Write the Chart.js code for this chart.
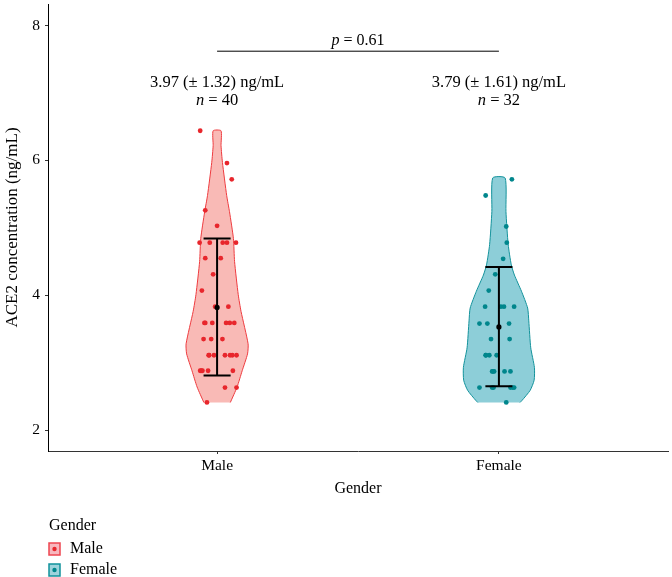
<!DOCTYPE html>
<html>
<head>
<meta charset="utf-8">
<script src="https://cdn.jsdelivr.net/npm/chart.js@4.4.0/dist/chart.umd.min.js"></script>
<style>
  html, body { margin: 0; padding: 0; background: #fff; }
</style>
</head>
<body>
<canvas id="c" width="672" height="577"></canvas>
<script>
const groups = ['Male', 'Female'];
const yTicks = [2, 4, 6, 8];

// ACE2 values per subject (ng/mL) and horizontal jitter (category units)
const maleValues = [6.44, 5.96, 5.72, 5.26, 5.03, 4.78, 4.78, 4.78, 4.78, 4.78, 4.55, 4.55, 4.31, 4.07,
  3.83, 3.83, 3.59, 3.59, 3.59, 3.59, 3.59, 3.35, 3.35, 3.35, 3.11, 3.11, 3.11, 3.11, 3.11, 3.11,
  2.88, 2.88, 2.88, 2.88, 2.63, 2.63, 2.41, 3.11, 2.88, 3.59];
const maleJitter = [-0.060, 0.035, 0.052, -0.042, 0, -0.062, -0.026, 0.020, 0.035, 0.067, -0.042, 0.013, -0.014, -0.054,
  -0.007, 0.040, -0.045, -0.017, 0.032, 0.045, 0.061, -0.048, -0.021, 0.019, -0.028, -0.011, 0.028, 0.046, 0.054, 0.069,
  -0.060, -0.052, -0.032, 0.056, 0.028, 0.069, -0.036, -0.030, -0.056, -0.042];

const femaleValues = [5.72, 5.48, 5.02, 4.78, 4.54, 4.31, 4.07, 3.83, 3.83, 3.83, 3.83, 3.58, 3.58, 3.58,
  3.35, 3.35, 3.11, 3.11, 3.11, 2.87, 2.87, 2.87, 2.87, 2.63, 2.63, 2.63, 2.63, 2.41, 2.63, 2.63, 3.11, 2.87];
const femaleJitter = [0.046, -0.047, 0.026, 0.028, 0.015, -0.013, -0.036, -0.049, 0.007, 0.018, 0.054, -0.069, -0.041, 0.036,
  -0.028, 0.038, -0.047, -0.034, -0.008, -0.024, -0.017, 0.020, 0.041, -0.069, -0.024, 0.041, 0.054, 0.026, -0.019, 0.049, -0.046, -0.021];

// violin outline: levels and half-widths (category units)
const maleLevels = [2.41, 2.64, 2.88, 3.13, 3.28, 3.76, 4.01, 4.50, 4.84, 5.24, 5.48, 5.97, 6.22, 6.44];
const maleHalfWidth = [0.047, 0.071, 0.089, 0.108, 0.110, 0.085, 0.075, 0.062, 0.058, 0.044, 0.034, 0.019, 0.014, 0.014];
const femaleLevels = [2.41, 2.44, 2.59, 2.74, 2.93, 3.22, 3.62, 3.81, 4.06, 4.30, 4.45, 4.75, 5.24, 5.74];
const femaleHalfWidth = [0.075, 0.082, 0.111, 0.125, 0.126, 0.113, 0.106, 0.102, 0.080, 0.055, 0.044, 0.033, 0.025, 0.022];

// error bars: low, mean, high
const maleBar = [2.81, 3.82, 4.84];
const femaleBar = [2.65, 3.53, 4.42];

const summaryLabels = ['3.97 (\u00b1 1.32) ng/mL', '3.79 (\u00b1 1.61) ng/mL'];
const nLabels = ['40', '32'];
const pLabel = '0.61';

const FONT = "'Liberation Serif', 'DejaVu Serif', serif";
const capHalf = 0.048;

function violin(center, levels, widths) {
  const right = levels.map((y, i) => ({ x: center + widths[i], y }));
  const left = levels.map((y, i) => ({ x: center - widths[i], y })).reverse();
  return right.concat(left);
}

function points(center, values, jitter) {
  return values.map((y, i) => ({ x: center + jitter[i], y }));
}

function errorBar(center, bar) {
  const [lo, , hi] = bar;
  return [
    { x: center - capHalf, y: hi }, { x: center + capHalf, y: hi }, { x: center, y: null },
    { x: center, y: hi }, { x: center, y: lo }, { x: center, y: null },
    { x: center - capHalf, y: lo }, { x: center + capHalf, y: lo }
  ];
}

function drawRuns(ctx, runs, cx, y, size) {
  let w = 0;
  runs.forEach(r => {
    ctx.font = (r.i ? 'italic ' : '') + size + 'px ' + FONT;
    r.w = ctx.measureText(r.t).width;
    w += r.w;
  });
  let x = cx - w / 2;
  ctx.textAlign = 'left';
  ctx.textBaseline = 'middle';
  runs.forEach(r => {
    ctx.font = (r.i ? 'italic ' : '') + size + 'px ' + FONT;
    ctx.fillText(r.t, x, y);
    x += r.w;
  });
}

const annotations = {
  id: 'annotations',
  afterDatasetsDraw(chart) {
    const { ctx, scales: { x, y } } = chart;
    ctx.save();
    ctx.fillStyle = '#000';
    ctx.strokeStyle = '#000';
    ctx.lineWidth = 1;
    ctx.beginPath();
    ctx.moveTo(x.getPixelForValue(1), y.getPixelForValue(7.62));
    ctx.lineTo(x.getPixelForValue(2), y.getPixelForValue(7.62));
    ctx.stroke();
    drawRuns(ctx, [{ t: 'p', i: true }, { t: ' = ' + pLabel }], x.getPixelForValue(1.5), y.getPixelForValue(7.77), 16);
    groups.forEach((g, i) => {
      const cx = x.getPixelForValue(i + 1);
      drawRuns(ctx, [{ t: summaryLabels[i] }], cx, y.getPixelForValue(7.15), 16.5);
      drawRuns(ctx, [{ t: 'n', i: true }, { t: ' = ' + nLabels[i] }], cx, y.getPixelForValue(6.88), 16.5);
    });
    ctx.restore();
  }
};

const legendColors = [
  { fill: '#f7b7be', stroke: '#ee4650', dot: '#e8262c' },
  { fill: '#9ed3dc', stroke: '#11929c', dot: '#00868c' }
];

const legendBox = {
  id: 'legendBox',
  afterDraw(chart) {
    const { ctx } = chart;
    const left = chart.chartArea.left + 1;
    ctx.save();
    ctx.fillStyle = '#000';
    ctx.textAlign = 'left';
    ctx.textBaseline = 'middle';
    ctx.font = '16px ' + FONT;
    ctx.fillText('Gender', left, 526);
    groups.forEach((g, i) => {
      const top = 543 + i * 21;
      const c = legendColors[i];
      ctx.fillStyle = c.fill;
      ctx.fillRect(left, top, 11, 12);
      ctx.strokeStyle = c.stroke;
      ctx.lineWidth = 1.5;
      ctx.strokeRect(left, top, 11, 12);
      ctx.fillStyle = c.dot;
      ctx.beginPath();
      ctx.arc(left + 5.5, top + 6, 2.2, 0, Math.PI * 2);
      ctx.fill();
      ctx.fillStyle = '#000';
      ctx.font = '16px ' + FONT;
      ctx.fillText(g, left + 21, top + 6);
    });
    ctx.restore();
  }
};

new Chart(document.getElementById('c'), {
  type: 'scatter',
  data: {
    datasets: [
      {
        type: 'line', data: violin(1, maleLevels, maleHalfWidth), fill: 'shape',
        backgroundColor: 'rgba(244, 118, 110, 0.5)', borderColor: '#ee3b3f', borderWidth: 1,
        pointRadius: 0, tension: 0.2, order: 5
      },
      {
        type: 'line', data: violin(2, femaleLevels, femaleHalfWidth), fill: 'shape',
        backgroundColor: 'rgba(28, 157, 178, 0.5)', borderColor: '#13929b', borderWidth: 1,
        pointRadius: 0, tension: 0.2, order: 5
      },
      {
        data: points(1, maleValues, maleJitter), backgroundColor: '#e8262c', borderWidth: 0,
        pointRadius: 2.4, order: 3
      },
      {
        data: points(2, femaleValues, femaleJitter), backgroundColor: '#00868c', borderWidth: 0,
        pointRadius: 2.4, order: 3
      },
      {
        type: 'line', data: errorBar(1, maleBar), borderColor: '#000', borderWidth: 2,
        pointRadius: 0, spanGaps: false, fill: false, order: 1
      },
      {
        type: 'line', data: errorBar(2, femaleBar), borderColor: '#000', borderWidth: 2,
        pointRadius: 0, spanGaps: false, fill: false, order: 1
      },
      {
        data: [{ x: 1, y: maleBar[1] }, { x: 2, y: femaleBar[1] }], backgroundColor: '#000',
        borderWidth: 0, pointRadius: 2.6, order: 0
      }
    ]
  },
  options: {
    responsive: false,
    animation: false,
    layout: { padding: { top: 0, right: 0, bottom: 71, left: 0 } },
    plugins: { legend: { display: false }, tooltip: { enabled: false } },
    scales: {
      x: {
        type: 'linear', min: 0.4, max: 2.6,
        afterBuildTicks: s => { s.ticks = [{ value: 1 }, { value: 2 }]; },
        afterFit: s => { s.height = 55; s.paddingLeft = 0; s.paddingRight = 0; },
        grid: { drawOnChartArea: false, tickLength: 3, color: '#333' },
        border: { color: '#333', width: 1 },
        ticks: { padding: 3, color: '#000', font: { family: FONT, size: 15.5 }, callback: v => groups[v - 1] },
        title: { display: true, text: 'Gender', color: '#000', font: { family: FONT, size: 16 }, padding: { top: 0, bottom: 8 } }
      },
      y: {
        min: 1.69, max: 8.32,
        afterBuildTicks: s => { s.ticks = yTicks.map(v => ({ value: v })); },
        afterFit: s => { s.width = 48; s.paddingTop = 0; s.paddingBottom = 0; },
        grid: { drawOnChartArea: false, tickLength: 3, color: '#333' },
        border: { color: '#000', width: 1 },
        ticks: { padding: 5, color: '#000', font: { family: FONT, size: 15.5 } },
        title: { display: true, text: 'ACE2 concentration (ng/mL)', color: '#000', font: { family: FONT, size: 17 }, padding: { top: 2, bottom: 0 } }
      }
    }
  },
  plugins: [annotations, legendBox]
});
</script>
</body>
</html>
